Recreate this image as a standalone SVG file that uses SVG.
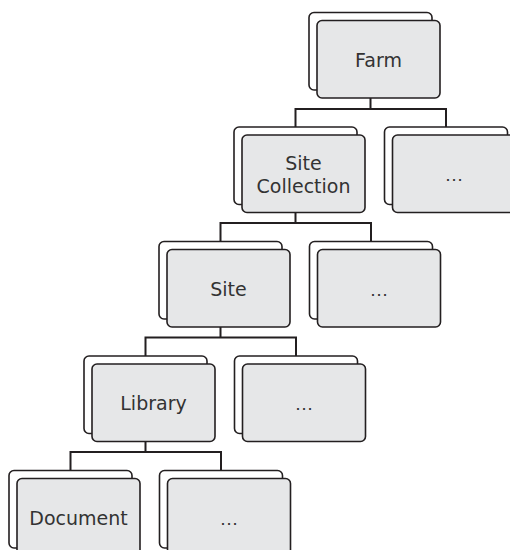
<svg xmlns="http://www.w3.org/2000/svg" width="510" height="550" viewBox="0 0 510 550">
<style>
.bk{fill:#ffffff;stroke:#231f20;stroke-width:1.6}
.fr{fill:#e6e7e8;stroke:#231f20;stroke-width:1.6}
.lb{font-family:"DejaVu Sans","Liberation Sans",sans-serif;font-size:19px;fill:#333333;text-anchor:middle}
.el{font-family:"Liberation Sans","DejaVu Sans",sans-serif;font-size:19px;fill:#333333;text-anchor:middle}
.cn{fill:none;stroke:#231f20;stroke-width:2}
</style>
<defs>
<g id="box">
<rect class="bk" x="0" y="0" width="123" height="77.5" rx="5"/>
<rect class="fr" x="8" y="8" width="123" height="77.5" rx="5"/>
</g>
</defs>
<rect width="510" height="550" fill="#ffffff"/>
<g id="connectors">
<path class="cn" d="M370.5 97.5 V109 M295.5 127 V109 H446 V127"/>
<path class="cn" d="M295.5 212.5 V223 M220.5 241.5 V223 H371 V241.5"/>
<path class="cn" d="M220.5 327 V337.5 M145.5 356 V337.5 H296 V356"/>
<path class="cn" d="M145.5 441.5 V452 M70.5 470.5 V452 H221 V470.5"/>
</g>
<g id="farm" transform="translate(309,12.5)">
<use href="#box"/>
<text class="lb" x="69.5" y="54">Farm</text>
</g>
<g id="site-collection" transform="translate(234,127)">
<use href="#box"/>
<text class="lb" x="69.5" y="42.5">Site</text>
<text class="lb" x="69.5" y="65.5">Collection</text>
</g>
<g id="more1" transform="translate(384.5,127)">
<use href="#box"/>
<text class="el" x="69.5" y="54">…</text>
</g>
<g id="site" transform="translate(159,241.5)">
<use href="#box"/>
<text class="lb" x="69.5" y="54">Site</text>
</g>
<g id="more2" transform="translate(309.5,241.5)">
<use href="#box"/>
<text class="el" x="69.5" y="54">…</text>
</g>
<g id="library" transform="translate(84,356)">
<use href="#box"/>
<text class="lb" x="69.5" y="54">Library</text>
</g>
<g id="more3" transform="translate(234.5,356)">
<use href="#box"/>
<text class="el" x="69.5" y="54">…</text>
</g>
<g id="document" transform="translate(9,470.5)">
<use href="#box"/>
<text class="lb" x="69.5" y="54">Document</text>
</g>
<g id="more4" transform="translate(159.5,470.5)">
<use href="#box"/>
<text class="el" x="69.5" y="54">…</text>
</g>
</svg>
